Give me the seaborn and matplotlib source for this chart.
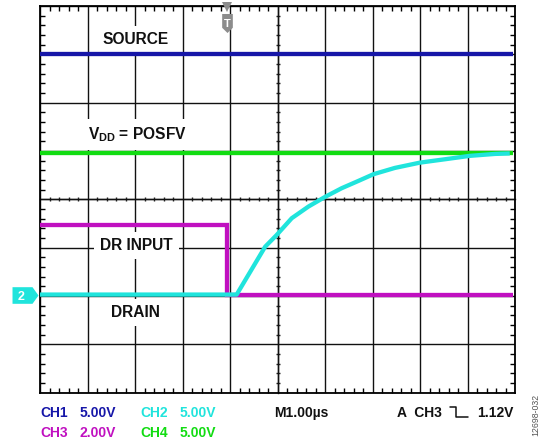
import numpy as np
import matplotlib
matplotlib.use("Agg")
import matplotlib.pyplot as plt
from matplotlib.path import Path
from matplotlib.lines import Line2D
from matplotlib.ticker import MultipleLocator
import seaborn as sns

# scope traces, x in divisions (1.00 us/div), y in divisions from the bottom
t_source = [0.0, 9.95]
v_source = [7.0, 7.0]

t_vdd = [0.0, 9.95]
v_vdd = [4.95, 4.95]

t_dr_input = [0.0, 3.94, 3.94, 9.95]
v_dr_input = [3.47, 3.47, 2.03, 2.03]

t_drain = [0.0, 4.14, 4.74, 4.98, 5.30, 5.65, 6.00, 6.35, 6.70, 7.02,
           7.47, 8.00, 8.53, 9.05, 9.58, 9.89]
v_drain = [2.03, 2.03, 3.02, 3.26, 3.61, 3.85, 4.05, 4.23, 4.38, 4.52,
           4.65, 4.76, 4.83, 4.90, 4.94, 4.95]

trigger_pos = 3.94

channels = ["CH1", "CH2", "CH3", "CH4"]
volts_div = ["5.00V", "5.00V", "2.00V", "5.00V"]
timebase = "M1.00µs"
trigger_txt = ["A  CH3", "1.12V"]

BLUE = "#1616A8"
CYAN = "#20E4DC"
MAGENTA = "#C010C0"
GREEN = "#12DC12"
GRAY = "#8C8C8C"

sns.set_theme(style="white")
plt.rcParams["font.family"] = ["Liberation Sans", "DejaVu Sans"]
plt.rcParams["mathtext.fontset"] = "custom"
plt.rcParams["mathtext.rm"] = "Liberation Sans"
plt.rcParams["mathtext.bf"] = "Liberation Sans:bold"

W, H = 540, 440
fig = plt.figure(figsize=(W / 100, H / 100), dpi=100)
rect = [40 / W, (H - 392.7) / H, 475 / W, (392.7 - 6) / H]

# layer for the centre cross with its small ticks
axc = fig.add_axes(rect, zorder=0)
axc.set_xlim(0, 10)
axc.set_ylim(0, 8)
for s in ["top", "right"]:
    axc.spines[s].set_visible(False)
axc.spines["left"].set_position(("data", 5))
axc.spines["bottom"].set_position(("data", 4))
for s in ["left", "bottom"]:
    axc.spines[s].set_color("#222222")
    axc.spines[s].set_linewidth(1.0)
axc.xaxis.set_minor_locator(MultipleLocator(0.2))
axc.yaxis.set_minor_locator(MultipleLocator(0.2))
axc.set_xticks(np.arange(0, 11))
axc.set_yticks(np.arange(0, 9))
axc.tick_params(which="both", direction="inout", labelbottom=False, labelleft=False,
                bottom=True, left=True, color="#222222")
axc.tick_params(which="major", length=0)
axc.tick_params(which="minor", length=3.4, width=1.0)

# main graticule
ax = fig.add_axes(rect, zorder=1)
ax.patch.set_visible(False)
ax.set_xlim(0, 10)
ax.set_ylim(0, 8)
ax.set_xticks(np.arange(0, 11))
ax.set_yticks(np.arange(0, 9))
ax.xaxis.set_minor_locator(MultipleLocator(0.2))
ax.yaxis.set_minor_locator(MultipleLocator(0.2))
ax.tick_params(which="both", direction="in", top=True, right=True, bottom=True, left=True,
               labelbottom=False, labelleft=False, color="black")
ax.tick_params(which="major", length=0)
ax.tick_params(which="minor", length=3.6, width=1.0)
ax.grid(True, which="major", color="#111111", linewidth=1.0)
for s in ax.spines.values():
    s.set_visible(True)
    s.set_color("black")
    s.set_linewidth(1.3)

line_kw = dict(estimator=None, sort=False, linewidth=3.1, ax=ax,
               solid_capstyle="butt", solid_joinstyle="miter")
sns.lineplot(x=t_source, y=v_source, color=BLUE, zorder=4, **line_kw)
sns.lineplot(x=t_vdd, y=v_vdd, color=GREEN, zorder=4, **line_kw)
sns.lineplot(x=t_dr_input, y=v_dr_input, color=MAGENTA, zorder=4, **line_kw)
sns.lineplot(x=t_drain, y=v_drain, color=CYAN, zorder=5,
             **{**line_kw, "solid_joinstyle": "round"})
ax.set_xlabel("")
ax.set_ylabel("")

# trace labels
box = dict(boxstyle="square,pad=0.4", facecolor="white", edgecolor="none")
lab_kw = dict(ha="center", va="baseline", fontsize=11.2, fontweight="bold",
              color="#111111", bbox=box, zorder=3)
ax.text(2.02, 7.21, "SOURCE", **lab_kw)
ax.text(2.04, 5.24, r"V$_{\mathbf{DD}}$ = POSFV", **lab_kw)
ax.text(2.03, 2.95, "DR INPUT", **lab_kw)
ax.text(2.00, 1.57, "DRAIN", **lab_kw)

# trigger marker at the top
shield = Path([(-0.56, 1), (0.56, 1), (0.56, -0.45), (0, -1), (-0.56, -0.45), (-0.56, 1)])
ax.plot([trigger_pos], [7.97], marker="v", markersize=7, color=GRAY,
        markeredgewidth=0, clip_on=False, zorder=6)
ax.plot([trigger_pos], [7.64], marker=shield, markersize=13.7, color=GRAY,
        markeredgewidth=0, clip_on=False, zorder=6)
ax.text(trigger_pos, 7.56, "T", ha="center", va="baseline", fontsize=8,
        fontweight="bold", color="white", zorder=7)

# channel 2 ground marker on the left
pent = Path([(-1, 0.64), (0.54, 0.64), (1, 0), (0.54, -0.64), (-1, -0.64), (-1, 0.64)])
ax.plot([-0.319], [2.03], marker=pent, markersize=18.7, color=CYAN,
        markeredgewidth=0, clip_on=False, zorder=6)
ax.text(-0.406, 1.91, "2", ha="center", va="baseline", fontsize=9,
        fontweight="bold", color="white", zorder=7)

# readout text under the screen
def fx(px):
    return px / W


def fy(py):
    return (H - py) / H


ch_colors = [BLUE, CYAN, MAGENTA, GREEN]
ch_x = [40, 140, 40, 140]
ch_y = [416.7, 416.7, 436.7, 436.7]
for name, vd, c, x0, y0 in zip(channels, volts_div, ch_colors, ch_x, ch_y):
    fig.text(fx(x0), fy(y0), name, color=c, fontsize=10, fontweight="bold", va="baseline")
    fig.text(fx(x0 + 40), fy(y0), vd, color=c, fontsize=10, fontweight="bold", va="baseline")

fig.text(fx(274), fy(416.7), timebase, color="#111111", fontsize=10,
         fontweight="bold", va="baseline")
fig.text(fx(397), fy(416.7), trigger_txt[0], color="#111111", fontsize=10,
         fontweight="bold", va="baseline")
fig.text(fx(514), fy(416.7), trigger_txt[1], color="#111111", fontsize=10,
         fontweight="bold", va="baseline", ha="right")

# falling edge symbol
edge_x = [450, 456, 456, 468]
edge_y = [406.7, 406.7, 416.7, 416.7]
fig.add_artist(Line2D([fx(v) for v in edge_x], [fy(v) for v in edge_y],
                      color="#111111", linewidth=1.1, transform=fig.transFigure))

fig.text(fx(535.5), fy(394), "12698-032", rotation=90, ha="center", va="top",
         fontsize=6.3, color="#555555")

fig.savefig("out.png", dpi=100)
